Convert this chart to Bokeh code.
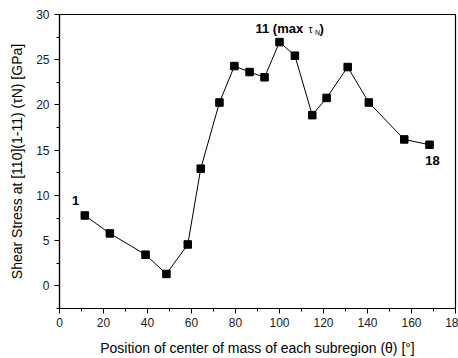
from bokeh.plotting import figure
from bokeh.models import ColumnDataSource, FixedTicker, Label, Range1d
from bokeh.embed import file_html
from bokeh.resources import INLINE

# data
theta = [11.5, 22.9, 39.1, 48.6, 58.3, 64.2, 72.7, 79.5, 86.4, 93.2,
         100.0, 107.0, 114.9, 121.4, 131.0, 140.6, 156.7, 168.2]
shear = [7.78, 5.8, 3.45, 1.32, 4.58, 12.96, 20.27, 24.3, 23.64, 23.06,
         26.95, 25.45, 18.87, 20.78, 24.19, 20.27, 16.19, 15.6]
x_ticks = [0, 20, 40, 60, 80, 100, 120, 140, 160, 180]
x_minor = [10, 30, 50, 70, 90, 110, 130, 150, 170]
y_ticks = [0, 5, 10, 15, 20, 25, 30]
y_minor = [-2.5, 2.5, 7.5, 12.5, 17.5, 22.5, 27.5]
x_tick_text = {180: "18"}   # shown cut off at the right edge in the reference

FONT = "Liberation Sans"

p = figure(width=458, height=358, output_backend="svg", toolbar_location=None,
           x_range=Range1d(0, 180), y_range=Range1d(-2.5, 30),
           min_border_left=59, min_border_right=3, min_border_top=14,
           min_border_bottom=49)
p.background_fill_color = "white"
p.border_fill_color = "white"
p.outline_line_color = "black"
p.outline_line_width = 1.2
p.xgrid.visible = False
p.ygrid.visible = False

src = ColumnDataSource(dict(x=theta, y=shear))
p.line("x", "y", source=src, line_color="black", line_width=1)
p.scatter("x", "y", source=src, marker="square", size=7.5,
          fill_color="black", line_color="black")

for ax in (p.xaxis[0], p.yaxis[0]):
    ax.axis_line_color = "black"
    ax.axis_line_width = 1.2
    ax.major_tick_line_color = "black"
    ax.minor_tick_line_color = "black"
    ax.major_tick_out = 5
    ax.major_tick_in = 0
    ax.minor_tick_out = 3
    ax.minor_tick_in = 0
    ax.major_label_text_font = FONT
    ax.major_label_text_font_size = "12px"
    ax.major_label_text_color = "#1a1a1a"

p.xaxis.ticker = FixedTicker(ticks=x_ticks, minor_ticks=x_minor)
p.yaxis.ticker = FixedTicker(ticks=y_ticks, minor_ticks=y_minor)
p.xaxis.major_label_overrides = {k: v for k, v in x_tick_text.items()}
p.xaxis.major_label_standoff = 4
p.yaxis.major_label_standoff = 5

p.xaxis.axis_label = "Position of center of mass of each subregion (\u03b8) [\u00b0]"
p.yaxis.axis_label = "Shear Stress at [110](1-11) (\u03c4N) [GPa]"
for ax in (p.xaxis[0], p.yaxis[0]):
    ax.axis_label_text_font = FONT
    ax.axis_label_text_font_size = "14px"
    ax.axis_label_text_font_style = "normal"
    ax.axis_label_text_color = "black"
p.xaxis.axis_label_standoff = 10
p.yaxis.axis_label_standoff = 8

PX = 396 / 180.0    # px per x unit
PY = 295 / 32.5     # px per y unit
def xd(px):
    return (px - 59) / PX
def yd(py):
    return (309 - py) / PY - 2.5

# point annotations
def ann(x, y, txt, fs=13, xo=0, yo=0, align="left", style="bold"):
    p.add_layout(Label(x=x, y=y, text=txt, x_offset=xo, y_offset=yo,
                       text_align=align, text_baseline="middle",
                       text_font=FONT, text_font_size=f"{fs}px",
                       text_font_style=style, text_color="black"))

ann(xd(75), yd(201), "1", align="center")
ann(xd(432), yd(160), "18", align="center")
ax11 = xd(255)
ay11 = yd(28)
ann(ax11, ay11, "11 (max")
ann(ax11, ay11, "\u03c4", fs=10, xo=53, yo=-1, style="normal")
ann(ax11, ay11, "N", fs=7, xo=59.5, yo=-4, style="normal")
ann(ax11, ay11, ")", xo=64)

open("out.html", "w").write(file_html(p, INLINE))
